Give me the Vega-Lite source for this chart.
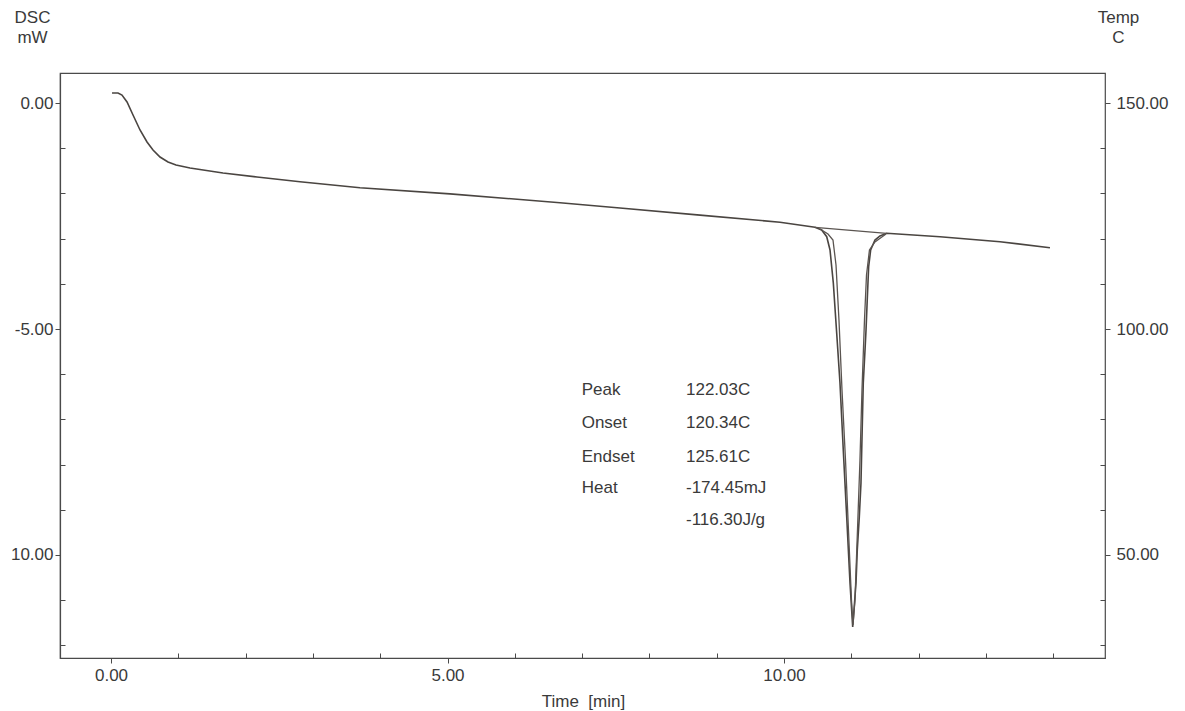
{
  "$schema": "https://vega.github.io/schema/vega-lite/v6.json",
  "width": 1045,
  "height": 585,
  "autosize": {"type": "none"},
  "padding": {"left": 60, "top": 73, "right": 80, "bottom": 53},
  "background": "white",
  "config": {
    "view": {"stroke": "#4a4a4a", "strokeWidth": 1.2},
    "font": "Liberation Sans",
    "axis": {
      "grid": false,
      "domainColor": "#4a4a4a",
      "domainWidth": 1.2,
      "tickColor": "#4a4a4a",
      "labelColor": "#3a3a3a",
      "titleColor": "#3a3a3a",
      "labelFont": "Liberation Sans",
      "titleFont": "Liberation Sans",
      "labelFontSize": 17,
      "titleFontSize": 17,
      "titleFontWeight": "normal"
    }
  },
  "datasets": {
    "main": [
      {"t": 0.015, "dsc": 0.221}, {"t": 0.104, "dsc": 0.221}, {"t": 0.163, "dsc": 0.177}, {"t": 0.238, "dsc": 0.022},
      {"t": 0.327, "dsc": -0.265}, {"t": 0.431, "dsc": -0.597}, {"t": 0.535, "dsc": -0.863}, {"t": 0.624, "dsc": -1.04},
      {"t": 0.728, "dsc": -1.195}, {"t": 0.847, "dsc": -1.305}, {"t": 0.966, "dsc": -1.372}, {"t": 1.174, "dsc": -1.438},
      {"t": 1.664, "dsc": -1.549}, {"t": 2.169, "dsc": -1.637}, {"t": 2.808, "dsc": -1.741}, {"t": 3.7, "dsc": -1.874},
      {"t": 5.037, "dsc": -2.01}, {"t": 6.672, "dsc": -2.206}, {"t": 7.563, "dsc": -2.323}, {"t": 8.752, "dsc": -2.48},
      {"t": 9.941, "dsc": -2.637}, {"t": 10.461, "dsc": -2.75}, {"t": 10.56, "dsc": -2.81}, {"t": 10.635, "dsc": -2.958},
      {"t": 10.684, "dsc": -3.252}, {"t": 10.733, "dsc": -3.982}, {"t": 10.783, "dsc": -5.088}, {"t": 10.832, "dsc": -6.195},
      {"t": 10.881, "dsc": -7.677}, {"t": 10.932, "dsc": -9.159}, {"t": 10.981, "dsc": -10.619}, {"t": 11.021, "dsc": -11.593},
      {"t": 11.07, "dsc": -10.619}, {"t": 11.089, "dsc": -9.889}, {"t": 11.119, "dsc": -9.159}, {"t": 11.144, "dsc": -8.407},
      {"t": 11.155, "dsc": -7.677}, {"t": 11.178, "dsc": -6.195}, {"t": 11.204, "dsc": -5.465}, {"t": 11.219, "dsc": -5.02},
      {"t": 11.237, "dsc": -4.358}, {"t": 11.258, "dsc": -3.622}, {"t": 11.288, "dsc": -3.252}, {"t": 11.352, "dsc": -3.031},
      {"t": 11.426, "dsc": -2.942}, {"t": 11.526, "dsc": -2.883}, {"t": 12.318, "dsc": -2.958}, {"t": 13.21, "dsc": -3.069},
      {"t": 13.952, "dsc": -3.201}
    ],
    "aux": [
      {"s": "inner", "t": 10.535, "dsc": -2.788}, {"s": "inner", "t": 10.654, "dsc": -2.898}, {"s": "inner", "t": 10.728, "dsc": -3.031},
      {"s": "inner", "t": 10.773, "dsc": -3.584}, {"s": "inner", "t": 10.817, "dsc": -4.801}, {"s": "inner", "t": 10.862, "dsc": -6.35},
      {"s": "inner", "t": 10.914, "dsc": -7.898}, {"s": "inner", "t": 10.958, "dsc": -9.447}, {"s": "inner", "t": 11.003, "dsc": -10.996},
      {"s": "inner", "t": 11.025, "dsc": -11.549}, {"s": "inner", "t": 11.055, "dsc": -10.996}, {"s": "inner", "t": 11.092, "dsc": -9.447},
      {"s": "inner", "t": 11.129, "dsc": -7.898}, {"s": "inner", "t": 11.159, "dsc": -6.35}, {"s": "inner", "t": 11.196, "dsc": -4.801},
      {"s": "inner", "t": 11.226, "dsc": -3.805}, {"s": "inner", "t": 11.27, "dsc": -3.252}, {"s": "inner", "t": 11.352, "dsc": -3.075},
      {"s": "inner", "t": 11.516, "dsc": -2.898},
      {"s": "base", "t": 10.461, "dsc": -2.75}, {"s": "base", "t": 11.526, "dsc": -2.883}
    ],
    "ann": [
      {"t": 6.994, "dsc": -6.46, "label": "Peak"},
      {"t": 8.544, "dsc": -6.46, "label": "122.03C"},
      {"t": 6.994, "dsc": -7.19, "label": "Onset"},
      {"t": 8.544, "dsc": -7.19, "label": "120.34C"},
      {"t": 6.994, "dsc": -7.942, "label": "Endset"},
      {"t": 8.544, "dsc": -7.942, "label": "125.61C"},
      {"t": 6.994, "dsc": -8.628, "label": "Heat"},
      {"t": 8.544, "dsc": -8.628, "label": "-174.45mJ"},
      {"t": 8.544, "dsc": -9.336, "label": "-116.30J/g"}
    ],
    "tempax": [{"t": 0, "temp": 150}]
  },
  "resolve": {"scale": {"y": "independent"}, "axis": {"x": "independent", "y": "independent"}},
  "layer": [
    {
      "data": {"name": "main"},
      "mark": {"type": "line", "color": "#4a4541", "strokeWidth": 1.6},
      "encoding": {
        "x": {
          "field": "t", "type": "quantitative",
          "scale": {"domain": [-0.758, 14.77], "nice": false, "zero": false},
          "axis": {
            "orient": "bottom", "values": [0, 5, 10],
            "labelExpr": "datum.value == 0 ? '0.00' : datum.value == 5 ? '5.00' : '10.00'",
            "tickSize": 5, "labelPadding": 4,
            "title": "Time\u00a0\u00a0[min]", "titleX": 523, "titleY": 48,
            "titleAlign": "center", "titleBaseline": "alphabetic"
          }
        },
        "y": {
          "field": "dsc", "type": "quantitative",
          "scale": {"domain": [-12.279, 0.664], "nice": false, "zero": false},
          "axis": {
            "orient": "left", "values": [0, -5, -10],
            "labelExpr": "datum.value == 0 ? '0.00' : datum.value == -5 ? '-5.00' : '10.00'",
            "tickSize": 5, "labelPadding": 2,
            "title": ["DSC", "mW"], "titleAngle": 0, "titleX": -28, "titleY": -51,
            "titleAlign": "center", "titleBaseline": "alphabetic", "titleLineHeight": 20
          }
        }
      }
    },
    {
      "data": {"name": "aux"},
      "mark": {"type": "line", "color": "#5a5450", "strokeWidth": 1.3},
      "encoding": {
        "detail": {"field": "s"},
        "x": {
          "field": "t", "type": "quantitative",
          "scale": {"domain": [-0.758, 14.77], "nice": false, "zero": false},
          "axis": {
            "orient": "bottom", "values": [1, 2, 3, 4, 6, 7, 8, 9, 11, 12, 13, 14],
            "labels": false, "domain": false, "tickSize": -5, "title": null
          }
        },
        "y": {
          "field": "dsc", "type": "quantitative",
          "scale": {"domain": [-12.279, 0.664], "nice": false, "zero": false},
          "axis": {
            "orient": "left", "values": [-1, -2, -3, -4, -6, -7, -8, -9, -11, -12],
            "labels": false, "domain": false, "tickSize": -5, "title": null
          }
        }
      }
    },
    {
      "data": {"name": "ann"},
      "mark": {"type": "text", "align": "left", "baseline": "alphabetic", "fontSize": 17, "font": "Liberation Sans", "color": "#3a3a3a"},
      "encoding": {
        "text": {"field": "label"},
        "x": {
          "field": "t", "type": "quantitative",
          "scale": {"domain": [-0.758, 14.77], "nice": false, "zero": false},
          "axis": null
        },
        "y": {
          "field": "dsc", "type": "quantitative",
          "scale": {"domain": [-12.279, 0.664], "nice": false, "zero": false},
          "axis": null
        }
      }
    },
    {
      "data": {"name": "tempax"},
      "mark": {"type": "point", "opacity": 0},
      "encoding": {
        "x": {
          "field": "t", "type": "quantitative",
          "scale": {"domain": [-0.758, 14.77], "nice": false, "zero": false},
          "axis": null
        },
        "y": {
          "field": "temp", "type": "quantitative",
          "scale": {"domain": [27.21, 156.64], "nice": false, "zero": false},
          "axis": {
            "orient": "right", "values": [150, 100, 50],
            "labelExpr": "datum.value == 150 ? '150.00' : datum.value == 100 ? '100.00' : '50.00'",
            "tickSize": 5, "labelPadding": 6, "domain": false,
            "title": ["Temp", "C"], "titleAngle": 0, "titleX": 13, "titleY": -51,
            "titleAlign": "center", "titleBaseline": "alphabetic", "titleLineHeight": 20
          }
        }
      }
    },
    {
      "data": {"name": "tempax"},
      "mark": {"type": "point", "opacity": 0},
      "encoding": {
        "x": {
          "field": "t", "type": "quantitative",
          "scale": {"domain": [-0.758, 14.77], "nice": false, "zero": false},
          "axis": null
        },
        "y": {
          "field": "temp", "type": "quantitative",
          "scale": {"domain": [27.21, 156.64], "nice": false, "zero": false},
          "axis": {
            "orient": "right", "values": [30, 40, 60, 70, 80, 90, 110, 120, 130, 140],
            "labels": false, "domain": false, "tickSize": -5, "title": null
          }
        }
      }
    }
  ]
}
